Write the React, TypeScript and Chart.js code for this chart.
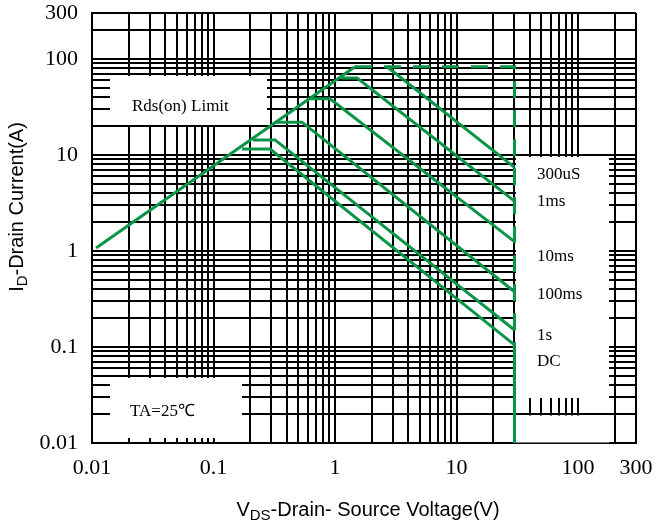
import { useEffect, useRef } from 'react';
import { Chart, registerables } from 'chart.js';

Chart.register(...registerables);

// ---- axis / tick data ----
const xTickLabels = ['0.01', '0.1', '1', '10', '100', '300'];
const yTickLabels = ['0.01', '0.1', '1', '10', '100', '300'];
const gridDecades = [0.01, 0.1, 1, 10, 100];
const gridMantissas = [1, 2, 3, 4, 5, 6, 7, 8, 9];
const axisMin = 0.01;
const axisMax = 300;

// ---- series data (VDS in V, ID in A) ----
const rdsLimitV = [0.0108, 1.46];
const rdsLimitI = [1.07, 82.6];

const boundaryV = [1.46, 30, 30];
const boundaryI = [82.6, 82.6, 0.105];

const pulse300usV = [2.68, 30];
const pulse300usI = [82.6, 7.4];

const pulse1msV = [1.12, 1.52, 30];
const pulse1msI = [63, 63, 3.3];

const pulse10msV = [0.622, 0.91, 30];
const pulse10msI = [38.3, 38.3, 1.25];

const pulse100msV = [0.325, 0.535, 30];
const pulse100msI = [21.9, 21.9, 0.376];

const pulse1sV = [0.211, 0.321, 30];
const pulse1sI = [14.3, 14.3, 0.15];

const dcV = [0.172, 0.292, 30, 30];
const dcI = [11.5, 11.5, 0.105, 0.01];

const curveLabels = ['300uS', '1ms', '10ms', '100ms', '1s', 'DC'];

const GREEN = '#0a9447';

function gridValues(): number[] {
  const vals: number[] = [];
  for (const d of gridDecades) {
    for (const m of gridMantissas) {
      const v = +(d * m).toPrecision(6);
      if (v <= axisMax + 1e-9) vals.push(v);
    }
  }
  if (vals[vals.length - 1] !== axisMax) vals.push(axisMax);
  return vals;
}

function labelFor(list: string[], value: number): string {
  const hit = list.find((s) => Math.abs(Math.log10(parseFloat(s)) - Math.log10(value)) < 1e-6);
  return hit ?? '';
}

function pts(xs: number[], ys: number[]) {
  return xs.map((x, i) => ({ x, y: ys[i] }));
}

const SERIF = '"Liberation Serif", "Times New Roman", serif';
const SANS = '"Liberation Sans", Arial, sans-serif';

const decorPlugin = {
  id: 'decor',
  beforeDatasetsDraw(chart: any) {
    const ctx = chart.ctx as CanvasRenderingContext2D;
    ctx.save();
    ctx.fillStyle = '#ffffff';
    // white annotation boxes covering the grid
    ctx.fillRect(110, 76, 157, 49);
    ctx.fillRect(110, 378, 132, 60);
    ctx.fillRect(516, 157, 93, 241);
    ctx.fillRect(516, 415.5, 93, 27);
    ctx.restore();
  },
  afterDraw(chart: any) {
    const ctx = chart.ctx as CanvasRenderingContext2D;
    ctx.save();
    ctx.fillStyle = '#000';
    ctx.textBaseline = 'middle';
    ctx.textAlign = 'left';
    ctx.font = `17px ${SERIF}`;
    ctx.fillText('Rds(on) Limit', 132, 107);
    ctx.fillText('TA=25℃', 130, 412);
    const labelY = [175, 202, 257, 295, 336, 362];
    curveLabels.forEach((t, i) => ctx.fillText(t, 537, labelY[i]));

    // axis titles with subscripts
    const drawTitle = (parts: { t: string; sub?: boolean }[], cx: number, cy: number) => {
      const big = `20px ${SANS}`;
      const small = `15px ${SANS}`;
      let total = 0;
      for (const p of parts) {
        ctx.font = p.sub ? small : big;
        total += ctx.measureText(p.t).width;
      }
      let x = cx - total / 2;
      ctx.textBaseline = 'alphabetic';
      for (const p of parts) {
        ctx.font = p.sub ? small : big;
        ctx.fillText(p.t, x, cy + 7 + (p.sub ? 4 : 0));
        x += ctx.measureText(p.t).width;
      }
    };
    drawTitle([{ t: 'V' }, { t: 'DS', sub: true }, { t: '-Drain- Source Voltage(V)' }], 368, 509);
    ctx.save();
    ctx.translate(16, 207);
    ctx.rotate(-Math.PI / 2);
    drawTitle([{ t: 'I' }, { t: 'D', sub: true }, { t: '-Drain Current(A)' }], 0, 0);
    ctx.restore();
    ctx.restore();
  },
};

function makeSet(xs: number[], ys: number[], dash?: number[]) {
  return {
    data: pts(xs, ys),
    showLine: true,
    borderColor: GREEN,
    backgroundColor: GREEN,
    borderWidth: 3,
    pointRadius: 0,
    pointHoverRadius: 0,
    fill: false,
    tension: 0,
    borderDash: dash ?? [],
    borderCapStyle: 'butt' as const,
  };
}

export default function App() {
  const ref = useRef<HTMLCanvasElement | null>(null);
  useEffect(() => {
    if (!ref.current) return;
    const ticks = gridValues();
    const chart = new Chart(ref.current, {
      type: 'scatter',
      data: {
        datasets: [
          makeSet(rdsLimitV, rdsLimitI),
          makeSet(pulse300usV, pulse300usI),
          makeSet(pulse1msV, pulse1msI),
          makeSet(pulse10msV, pulse10msI),
          makeSet(pulse100msV, pulse100msI),
          makeSet(pulse1sV, pulse1sI),
          makeSet(dcV, dcI),
          makeSet(boundaryV, boundaryI, [17, 12]),
        ] as any,
      },
      options: {
        animation: false,
        responsive: false,
        devicePixelRatio: 1,
        layout: { padding: { left: 0, top: 13, right: 22, bottom: 0 } },
        plugins: { legend: { display: false }, tooltip: { enabled: false } },
        scales: {
          x: {
            type: 'logarithmic',
            min: axisMin,
            max: axisMax,
            afterBuildTicks: (scale: any) => {
              scale.ticks = ticks.map((v) => ({ value: v }));
            },
            afterFit: (scale: any) => {
              scale.height = 80;
              scale.paddingLeft = 0;
              scale.paddingRight = 0;
              scale.paddingTop = 0;
              scale.paddingBottom = 0;
            },
            grid: { color: '#000', lineWidth: 2, drawTicks: false },
            border: { color: '#000', width: 2 },
            ticks: {
              autoSkip: false,
              maxRotation: 0,
              padding: 12,
              color: '#000',
              font: { family: SERIF, size: 22 },
              callback: (v: any) => labelFor(xTickLabels, Number(v)),
            },
          },
          y: {
            type: 'logarithmic',
            min: axisMin,
            max: axisMax,
            afterBuildTicks: (scale: any) => {
              scale.ticks = ticks.map((v) => ({ value: v }));
            },
            afterFit: (scale: any) => {
              scale.width = 92;
              scale.paddingLeft = 0;
              scale.paddingRight = 0;
              scale.paddingTop = 0;
              scale.paddingBottom = 0;
            },
            grid: { color: '#000', lineWidth: 2, drawTicks: false },
            border: { color: '#000', width: 2 },
            ticks: {
              autoSkip: false,
              padding: 14,
              color: '#000',
              font: { family: SERIF, size: 22 },
              callback: (v: any) => labelFor(yTickLabels, Number(v)),
            },
          },
        },
      } as any,
      plugins: [decorPlugin],
    });
    return () => chart.destroy();
  }, []);
  return (
    <div style={{ position: 'absolute', left: 0, top: 0, width: 658, height: 523, background: '#fff' }}>
      <canvas ref={ref} width={658} height={523} style={{ display: 'block' }} />
    </div>
  );
}
